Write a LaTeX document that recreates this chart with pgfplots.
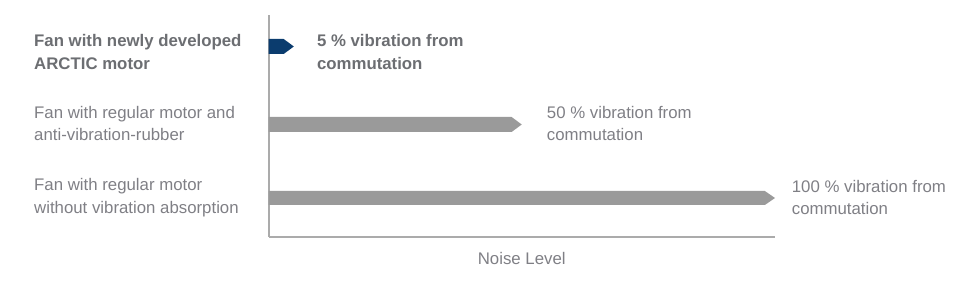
\documentclass[border=0pt]{standalone}
\usepackage{pgfplots}
\pgfplotsset{compat=1.18}
\usepackage{fontspec}
\setmainfont{Liberation Sans}
\definecolor{txt}{HTML}{7F7F85}
\definecolor{txtb}{HTML}{6C6E72}
\definecolor{barg}{HTML}{9A9A9A}
\definecolor{navy}{HTML}{0B3C6E}
\definecolor{axg}{HTML}{ABABAB}
\begin{document}
\begin{tikzpicture}[x=1pt,y=1pt]
\path[use as bounding box] (0,0) rectangle (978,291);
\begin{axis}[
  at={(268.5pt,54pt)}, anchor=south west,
  scale only axis, width=506.5pt, height=222pt,
  xmin=0, xmax=100, ymin=0, ymax=222,
  axis lines=left, axis line style={axg, line width=2pt, -},
  ticks=none, clip=false,
  xlabel={Noise Level},
  xlabel style={at={(axis description cs:0.5,0)}, anchor=center, yshift=-21pt,
    font=\fontsize{16.8}{19}\selectfont, text=txt},
]
% bars: value = tip position
\addplot[fill=navy, draw=none] coordinates {(0,183)(3,183)(5,190.5)(3,198)(0,198)} --cycle;
\addplot[fill=barg, draw=none] coordinates {(0,105)(48,105)(50,112.5)(48,120)(0,120)} --cycle;
\addplot[fill=barg, draw=none] coordinates {(0,32)(98,32)(100,39)(98,46)(0,46)} --cycle;
% category labels
\node[anchor=west, align=left, inner sep=0pt, xshift=-234.5pt, text=txtb,
  font=\fontsize{16.8}{22.5}\selectfont\bfseries] at (axis cs:0,185)
  {Fan with newly developed\\ARCTIC motor};
\node[anchor=west, align=left, inner sep=0pt, xshift=-234.5pt, text=txt,
  font=\fontsize{16.8}{22.5}\selectfont] at (axis cs:0,113.5)
  {Fan with regular motor and\\anti-vibration-rubber};
\node[anchor=west, align=left, inner sep=0pt, xshift=-234.5pt, text=txt,
  font=\fontsize{16.8}{22.5}\selectfont] at (axis cs:0,39.5)
  {Fan with regular motor\\without vibration absorption};
% value labels
\node[anchor=west, align=left, inner sep=0pt, xshift=23pt, text=txtb,
  font=\fontsize{16.8}{22.5}\selectfont\bfseries] at (axis cs:5,185)
  {5 \% vibration from\\commutation};
\node[anchor=west, align=left, inner sep=0pt, xshift=25pt, text=txt,
  font=\fontsize{16.8}{22.5}\selectfont] at (axis cs:50,113.5)
  {50 \% vibration from\\commutation};
\node[anchor=west, align=left, inner sep=0pt, xshift=16.7pt, text=txt,
  font=\fontsize{16.8}{22.5}\selectfont] at (axis cs:100,39.5)
  {100 \% vibration from\\commutation};
\end{axis}
\end{tikzpicture}
\end{document}
